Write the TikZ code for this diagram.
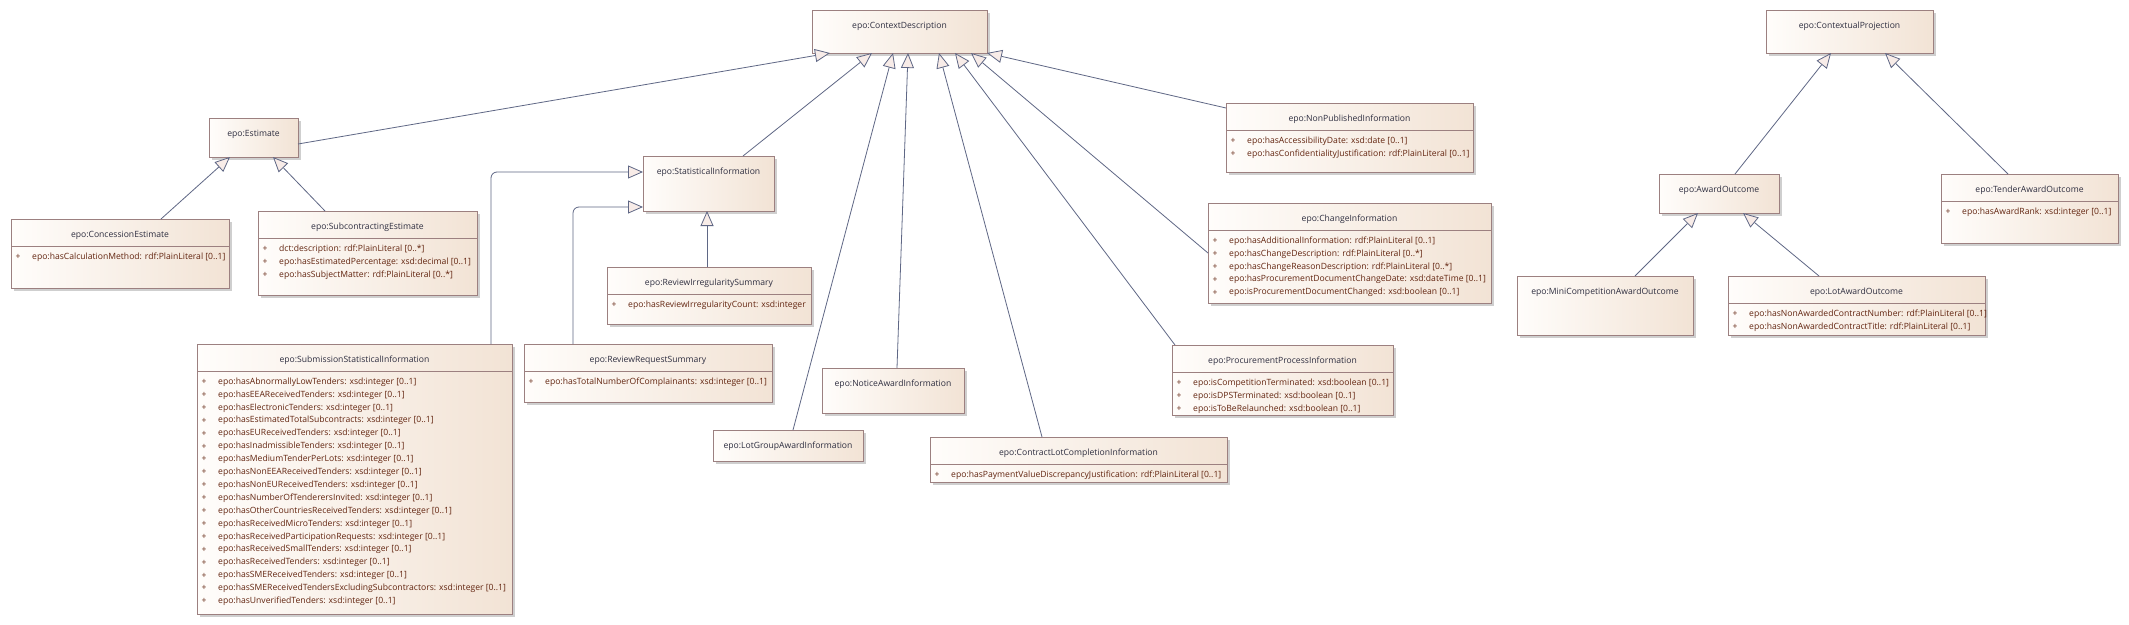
\documentclass[tikz,border=0pt]{standalone}
\usepackage{fontspec}
\setmainfont{Open Sans}
\usetikzlibrary{arrows.meta,calc,fit}
\definecolor{linec}{HTML}{5F6785}
\definecolor{arrowfill}{HTML}{F8ECE8}
\definecolor{borderc}{HTML}{9C8080}
\definecolor{boxL}{HTML}{FFFDFB}
\definecolor{boxR}{HTML}{F2E3D5}
\definecolor{ttlc}{HTML}{2E2E40}
\definecolor{attrc}{HTML}{62240F}
\definecolor{shadowc}{HTML}{CFCFCF}
\tikzset{
  umlbox/.style={draw=borderc, line width=0.9pt, left color=boxL, right color=boxR, inner sep=0pt, outer sep=0pt},
  shadowbox/.style={fill=shadowc},
  sepline/.style={draw=borderc, line width=0.8pt},
  ttl/.style={text=ttlc, font=\fontsize{8.6}{10}\selectfont, inner sep=0pt},
  attrtxt/.style={text=attrc, font=\fontsize{8.6}{10}\selectfont, inner sep=0pt},
  gen/.style={draw=linec, line width=0.8pt, -{Triangle[length=15pt, width=13pt, fill=arrowfill]}},
}
\newcommand{\umlclass}[6]{%
  \fill[shadowbox] (#2+3,#3+3) rectangle (#4+3,#5+3);
  \node[umlbox, fit={(#2,#3) (#4,#5)}] (#1) {};
  \node[ttl] (#1-t) at ($(#1.north)+(0,16)$) {#6};
}
\newcommand{\umlsep}[1]{\draw[sepline] ($(#1.north west)+(0,27)$) -- ($(#1.north east)+(0,27)$);}
\newcommand{\umlattr}[3]{%
  \node[attrtxt] (#1-p#2) at ($(#1.north west)+(7,{38+12.9*#2})$) {+};
  \node[attrtxt, anchor=west] (#1-a#2) at ($(#1.north west)+(21,{38+12.9*#2})$) {#3};
}
\begin{document}
\begin{tikzpicture}[x=1pt,y=-1pt]
\fill[white] (0,0) rectangle (2129,624);
\useasboundingbox (0,0) rectangle (2129,624);

% ---- classes ----
\umlclass{cd}{812}{10}{987}{53}{epo:ContextDescription}
\umlclass{est}{209}{118}{298}{157}{epo:Estimate}
\umlclass{conc}{11}{219}{229}{288}{epo:ConcessionEstimate}
\umlsep{conc}
\umlattr{conc}{0}{epo:hasCalculationMethod: rdf:PlainLiteral [0..1]}
\umlclass{sube}{258}{211}{477}{295}{epo:SubcontractingEstimate}
\umlsep{sube}
\umlattr{sube}{0}{dct:description: rdf:PlainLiteral [0..*]}
\umlattr{sube}{1}{epo:hasEstimatedPercentage: xsd:decimal [0..1]}
\umlattr{sube}{2}{epo:hasSubjectMatter: rdf:PlainLiteral [0..*]}
\umlclass{stat}{643}{156}{774}{211}{epo:StatisticalInformation}
\umlclass{rirs}{607}{267}{811}{324}{epo:ReviewIrregularitySummary}
\umlsep{rirs}
\umlattr{rirs}{0}{epo:hasReviewIrregularityCount: xsd:integer}
\umlclass{subm}{197}{344}{512}{614}{epo:SubmissionStatisticalInformation}
\umlsep{subm}
\umlattr{subm}{0}{epo:hasAbnormallyLowTenders: xsd:integer [0..1]}
\umlattr{subm}{1}{epo:hasEEAReceivedTenders: xsd:integer [0..1]}
\umlattr{subm}{2}{epo:hasElectronicTenders: xsd:integer [0..1]}
\umlattr{subm}{3}{epo:hasEstimatedTotalSubcontracts: xsd:integer [0..1]}
\umlattr{subm}{4}{epo:hasEUReceivedTenders: xsd:integer [0..1]}
\umlattr{subm}{5}{epo:hasInadmissibleTenders: xsd:integer [0..1]}
\umlattr{subm}{6}{epo:hasMediumTenderPerLots: xsd:integer [0..1]}
\umlattr{subm}{7}{epo:hasNonEEAReceivedTenders: xsd:integer [0..1]}
\umlattr{subm}{8}{epo:hasNonEUReceivedTenders: xsd:integer [0..1]}
\umlattr{subm}{9}{epo:hasNumberOfTenderersInvited: xsd:integer [0..1]}
\umlattr{subm}{10}{epo:hasOtherCountriesReceivedTenders: xsd:integer [0..1]}
\umlattr{subm}{11}{epo:hasReceivedMicroTenders: xsd:integer [0..1]}
\umlattr{subm}{12}{epo:hasReceivedParticipationRequests: xsd:integer [0..1]}
\umlattr{subm}{13}{epo:hasReceivedSmallTenders: xsd:integer [0..1]}
\umlattr{subm}{14}{epo:hasReceivedTenders: xsd:integer [0..1]}
\umlattr{subm}{15}{epo:hasSMEReceivedTenders: xsd:integer [0..1]}
\umlattr{subm}{16}{epo:hasSMEReceivedTendersExcludingSubcontractors: xsd:integer [0..1]}
\umlattr{subm}{17}{epo:hasUnverifiedTenders: xsd:integer [0..1]}
\umlclass{rrs}{524}{344}{772}{402}{epo:ReviewRequestSummary}
\umlsep{rrs}
\umlattr{rrs}{0}{epo:hasTotalNumberOfComplainants: xsd:integer [0..1]}
\umlclass{nai}{822}{368}{964}{413}{epo:NoticeAwardInformation}
\umlclass{lgai}{713}{430}{863}{461}{epo:LotGroupAwardInformation}
\umlclass{clci}{930}{437}{1227}{482}{epo:ContractLotCompletionInformation}
\umlsep{clci}
\umlattr{clci}{0}{epo:hasPaymentValueDiscrepancyJustification: rdf:PlainLiteral [0..1]}
\umlclass{ppi}{1172}{345}{1393}{415}{epo:ProcurementProcessInformation}
\umlsep{ppi}
\umlattr{ppi}{0}{epo:isCompetitionTerminated: xsd:boolean [0..1]}
\umlattr{ppi}{1}{epo:isDPSTerminated: xsd:boolean [0..1]}
\umlattr{ppi}{2}{epo:isToBeRelaunched: xsd:boolean [0..1]}
\umlclass{chi}{1208}{203}{1491}{303}{epo:ChangeInformation}
\umlsep{chi}
\umlattr{chi}{0}{epo:hasAdditionalInformation: rdf:PlainLiteral [0..1]}
\umlattr{chi}{1}{epo:hasChangeDescription: rdf:PlainLiteral [0..*]}
\umlattr{chi}{2}{epo:hasChangeReasonDescription: rdf:PlainLiteral [0..*]}
\umlattr{chi}{3}{epo:hasProcurementDocumentChangeDate: xsd:dateTime [0..1]}
\umlattr{chi}{4}{epo:isProcurementDocumentChanged: xsd:boolean [0..1]}
\umlclass{npi}{1226}{103}{1473}{172}{epo:NonPublishedInformation}
\umlsep{npi}
\umlattr{npi}{0}{epo:hasAccessibilityDate: xsd:date [0..1]}
\umlattr{npi}{1}{epo:hasConfidentialityJustification: rdf:PlainLiteral [0..1]}
\umlclass{cp}{1766}{10}{1933}{53}{epo:ContextualProjection}
\umlclass{ao}{1659}{174}{1779}{213}{epo:AwardOutcome}
\umlclass{tao}{1941}{174}{2118}{243}{epo:TenderAwardOutcome}
\umlsep{tao}
\umlattr{tao}{0}{epo:hasAwardRank: xsd:integer [0..1]}
\umlclass{mcao}{1517}{276}{1693}{335}{epo:MiniCompetitionAwardOutcome}
\umlclass{lao}{1728}{276}{1985}{335}{epo:LotAwardOutcome}
\umlsep{lao}
\umlattr{lao}{0}{epo:hasNonAwardedContractNumber: rdf:PlainLiteral [0..1]}
\umlattr{lao}{1}{epo:hasNonAwardedContractTitle: rdf:PlainLiteral [0..1]}

% ---- generalizations ----
\draw[gen] ([yshift=-6.5pt]est.east) -- ([xshift=18pt]cd.south west);
\draw[gen] ([xshift=100pt]stat.north west) -- ([xshift=60pt]cd.south west);
\draw[gen] ([xshift=80pt]lgai.north west) -- ([xshift=81pt]cd.south west);
\draw[gen] ([xshift=75pt]nai.north west) -- ([xshift=96pt]cd.south west);
\draw[gen] ([xshift=112pt]clci.north west) -- ([xshift=127pt]cd.south west);
\draw[gen] ([xshift=3pt]ppi.north west) -- ([xshift=143pt]cd.south west);
\draw[gen] ([yshift=-50pt]chi.north west) -- ([xshift=159pt]cd.south west);
\draw[gen] ([yshift=-5pt]npi.north west) -- (cd.south east);
\draw[gen] ([xshift=150pt]conc.north west) -- ([xshift=21pt]est.south west);
\draw[gen] ([xshift=67pt]sube.north west) -- ([xshift=64pt]est.south west);
\draw[gen, rounded corners=6pt] ([xshift=294pt]subm.north west) |- ([yshift=-16pt]stat.north west);
\draw[gen, rounded corners=6pt] ([xshift=49pt]rrs.north west) |- ([yshift=-51pt]stat.north west);
\draw[gen] ([xshift=100pt]rirs.north west) -- ([xshift=64pt]stat.south west);
\draw[gen] ([xshift=76pt]ao.north west) -- ([xshift=65pt]cp.south west);
\draw[gen] ([xshift=67pt]tao.north west) -- ([xshift=119pt]cp.south west);
\draw[gen] ([xshift=118pt]mcao.north west) -- ([xshift=39pt]ao.south west);
\draw[gen] ([xshift=91pt]lao.north west) -- ([xshift=84pt]ao.south west);
\end{tikzpicture}
\end{document}
